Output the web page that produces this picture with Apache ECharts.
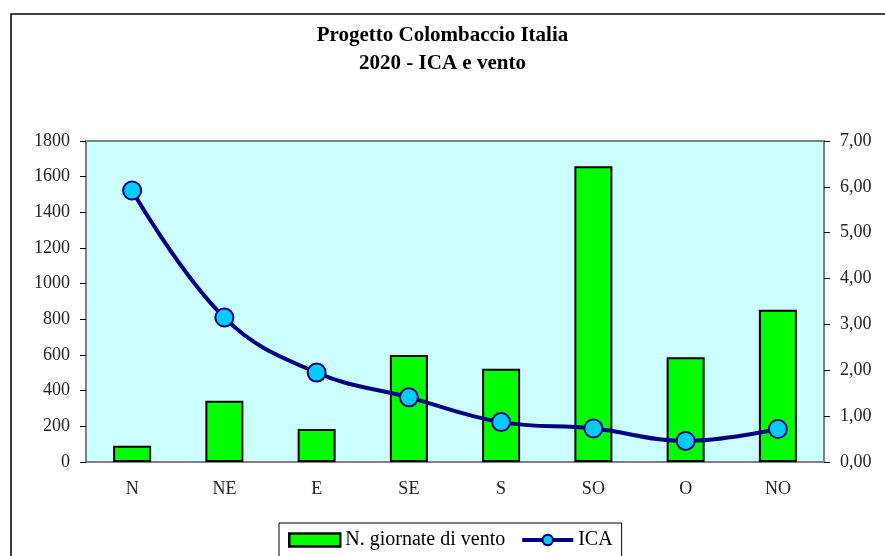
<!DOCTYPE html>
<html>
<head>
<meta charset="utf-8">
<script src="https://cdn.jsdelivr.net/npm/echarts@6/dist/echarts.min.js"></script>
<style>
  html, body { margin: 0; padding: 0; background: #fff; }
  #chart { width: 885px; height: 556px; }
</style>
</head>
<body>
<div id="chart"></div>
<script>
// dati
const categories = ['N', 'NE', 'E', 'SE', 'S', 'SO', 'O', 'NO']
const giornateVento = [91, 344, 185, 600, 523, 1658, 587, 854]
const ica = [5.92, 3.15, 1.95, 1.41, 0.87, 0.73, 0.46, 0.72]

const FONT = 'Liberation Serif'
const axisLabel = { color: '#222', fontFamily: FONT, fontSize: 18 }

const chart = echarts.init(document.getElementById('chart'))

chart.setOption({
  animation: false,
  backgroundColor: '#fff',
  title: {
    text: 'Progetto Colombaccio Italia\n2020 - ICA e vento',
    left: 'center',
    top: 17,
    textStyle: {
      fontFamily: FONT,
      fontWeight: 'bold',
      fontSize: 21,
      lineHeight: 28,
      color: '#000'
    }
  },
  graphic: [{
    type: 'rect',
    z: -1,
    shape: { x: 11, y: 14, width: 900, height: 600 },
    style: { fill: 'none', stroke: '#000', lineWidth: 1.5 }
  }],
  legend: {
    left: 279,
    top: 523,
    padding: [7, 9, 20, 9],
    borderColor: '#000',
    borderWidth: 1,
    itemWidth: 51,
    itemHeight: 13,
    itemGap: 15,
    textStyle: { fontFamily: FONT, fontSize: 20, color: '#000' },
    data: [
      { name: 'N. giornate di vento', icon: 'rect', itemStyle: { borderWidth: 2.5 } },
      { name: 'ICA', lineStyle: { width: 4 } }
    ]
  },
  grid: {
    left: 86,
    right: 61,
    top: 141,
    bottom: 94,
    show: true,
    backgroundColor: '#CCFFFF',
    borderColor: '#808080',
    borderWidth: 2
  },
  xAxis: {
    type: 'category',
    data: categories,
    axisLine: { lineStyle: { color: '#808080', width: 2 } },
    axisTick: { length: 6, lineStyle: { color: '#000' } },
    axisLabel: { ...axisLabel, margin: 18 }
  },
  yAxis: [{
    type: 'value',
    min: 0,
    max: 1800,
    interval: 200,
    splitLine: { show: false },
    axisLine: { show: true, lineStyle: { color: '#808080', width: 2 } },
    axisTick: { show: true, length: 6, lineStyle: { color: '#000' } },
    axisLabel: { ...axisLabel, margin: 16, formatter: v => String(v) }
  }, {
    type: 'value',
    position: 'right',
    min: 0,
    max: 7,
    interval: 1,
    splitLine: { show: false },
    axisLine: { show: true, lineStyle: { color: '#808080', width: 2 } },
    axisTick: { show: true, length: 6, lineStyle: { color: '#000' } },
    axisLabel: {
      ...axisLabel,
      margin: 16,
      formatter: v => v.toFixed(2).replace('.', ',')
    }
  }],
  series: [{
    name: 'N. giornate di vento',
    type: 'bar',
    data: giornateVento,
    barWidth: 38,
    itemStyle: { color: '#00FF00', borderColor: '#000', borderWidth: 2 }
  }, {
    name: 'ICA',
    type: 'line',
    yAxisIndex: 1,
    data: ica,
    smooth: 0.4,
    symbol: 'circle',
    symbolSize: 18,
    lineStyle: { color: '#000080', width: 4 },
    itemStyle: { color: '#00CCFF', borderColor: '#000080', borderWidth: 2 },
    z: 3
  }]
})
</script>
</body>
</html>
